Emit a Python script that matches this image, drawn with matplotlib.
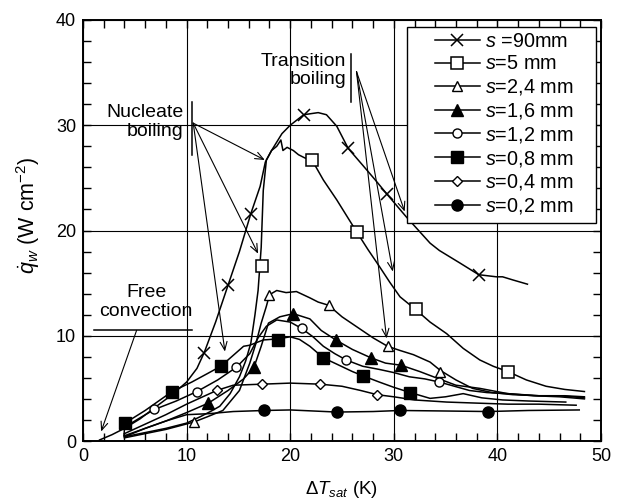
import matplotlib
matplotlib.use('Agg')
import matplotlib.pyplot as plt
from matplotlib.lines import Line2D
from matplotlib.patches import Rectangle
from matplotlib.ticker import MultipleLocator

plt.rcParams['font.family'] = ['Liberation Sans', 'DejaVu Sans']
plt.rcParams['mathtext.fontset'] = 'custom'
plt.rcParams['mathtext.rm'] = 'Liberation Sans'
plt.rcParams['mathtext.it'] = 'Liberation Sans:italic'
plt.rcParams['mathtext.bf'] = 'Liberation Sans:bold'

# ---------------- data ----------------
s90_x = [1.6, 2.8, 4.0, 5.5, 7.1, 8.6, 10.0, 11.0, 11.7, 12.8, 14.0, 15.1, 16.2, 17.1, 17.6, 18.2, 19.2,
         20.0, 21.3, 22.7, 23.5, 24.5, 25.6, 27.0, 28.3, 29.3, 31.2, 33.5, 34.4, 36.4, 38.2, 39.9, 40.5,
         41.5, 42.9]
s90_y = [0.1, 0.6, 1.2, 2.1, 3.3, 4.4, 5.6, 6.9, 8.4, 11.3, 14.8, 18.0, 21.6, 24.2, 26.5, 27.6, 29.2,
         30.0, 31.0, 31.2, 31.0, 29.9, 27.8, 26.2, 24.7, 23.5, 21.3, 18.8, 18.1, 16.9, 15.8, 15.6, 15.6,
         15.3, 14.9]
s90_mx = [11.7, 14.0, 16.2, 21.3, 25.6, 29.3, 38.2]
s90_my = [8.4, 14.8, 21.6, 31.0, 27.8, 23.5, 15.8]

s5_x = [4.0, 6.0, 8.0, 10.0, 11.3, 12.3, 13.2, 14.2, 15.1, 15.7, 16.2, 16.6, 16.9, 17.2, 17.4, 17.7, 18.2,
        18.7, 19.1, 19.3, 19.7, 20.3, 20.8, 21.4, 22.1, 23.2, 24.5, 25.7, 26.4, 27.5, 28.6, 29.6, 30.6,
        32.1, 33.5, 35.1, 36.7, 38.3, 39.6, 41.0, 42.8, 44.7, 46.5, 48.4]
s5_y = [0.4, 0.8, 1.2, 1.7, 2.3, 2.8, 3.3, 4.5, 6.1, 7.6, 9.3, 12.0, 14.3, 18.4, 23.8, 26.7, 27.6,
        28.0, 28.6, 27.6, 27.9, 27.6, 27.2, 26.9, 26.7, 24.8, 22.9, 21.0, 19.9, 18.2, 16.6, 15.1, 13.7,
        12.5, 11.3, 10.2, 8.8, 7.7, 7.1, 6.6, 5.8, 5.2, 4.9, 4.7]
s5_mx = [17.3, 22.1, 26.4, 32.1, 41.0]
s5_my = [16.6, 26.7, 19.9, 12.5, 6.6]

s24_x = [4.0, 6.0, 8.0, 10.7, 12.0, 13.5, 15.1, 16.1, 16.7, 17.2, 17.7, 18.0, 18.7, 19.6, 20.6, 21.9,
         22.7, 23.7, 25.0, 26.5, 28.0, 29.4, 30.6, 31.9, 33.5, 34.5, 36.0, 37.6, 39.5, 41.5, 44.0, 46.0, 48.4]
s24_y = [0.3, 0.7, 1.1, 1.8, 2.3, 2.9, 4.8, 7.4, 9.3, 11.2, 12.8, 13.9, 14.3, 14.1, 14.2, 13.6,
         13.2, 12.9, 11.8, 10.8, 9.8, 9.0, 8.6, 8.2, 7.5, 6.7, 5.8, 5.0, 4.6, 4.4, 4.3, 4.3, 4.1]
s24_mx = [10.7, 18.0, 23.7, 29.4, 34.5]
s24_my = [1.8, 13.9, 12.9, 9.0, 6.6]

s16_x = [4.0, 6.0, 8.0, 10.0, 12.1, 14.0, 15.5, 16.5, 17.2, 17.9, 19.0, 20.3, 21.9, 23.0, 24.4, 26.0,
         27.8, 29.2, 30.7, 32.5, 34.1, 36.0, 38.3, 41.0, 44.0, 46.5, 48.4]
s16_y = [0.5, 1.2, 1.9, 2.7, 3.6, 4.8, 5.9, 7.0, 9.0, 11.2, 11.8, 12.1, 11.6, 10.5, 9.6, 8.7,
         7.9, 7.4, 7.2, 6.6, 6.0, 5.3, 5.0, 4.5, 4.3, 4.3, 4.2]
s16_mx = [12.1, 16.5, 20.3, 24.4, 27.8, 30.7]
s16_my = [3.6, 7.0, 12.1, 9.6, 7.9, 7.2]

s12_x = [4.0, 5.5, 6.9, 9.0, 11.0, 13.0, 14.8, 16.1, 16.9, 17.7, 18.7, 20.0, 21.1, 22.2, 23.2, 24.3,
         25.4, 27.0, 28.6, 30.0, 31.5, 33.0, 34.4, 35.5, 37.3, 39.0, 41.0, 43.5, 46.0, 48.4]
s12_y = [1.3, 2.2, 3.0, 3.8, 4.7, 5.8, 7.0, 8.3, 9.8, 10.9, 11.5, 11.3, 10.7, 9.9, 9.0, 8.3,
         7.7, 7.1, 6.8, 6.5, 6.1, 5.9, 5.6, 5.3, 4.8, 4.6, 4.5, 4.3, 4.2, 4.0]
s12_mx = [6.9, 11.0, 14.8, 21.1, 25.4, 34.4]
s12_my = [3.0, 4.7, 7.0, 10.7, 7.7, 5.6]

s08_x = [3.95, 4.05, 6.0, 8.6, 10.5, 12.0, 13.3, 15.5, 16.1, 17.4, 18.8, 20.0, 20.9, 21.9, 23.2, 24.5,
         26.0, 27.0, 28.6, 30.0, 31.6, 33.5, 35.0, 36.7, 38.5, 40.5, 43.0, 46.6]
s08_y = [0.5, 1.7, 2.9, 4.7, 5.6, 6.4, 7.1, 9.0, 9.1, 9.6, 9.7, 9.9, 9.65, 9.0, 7.9, 7.3,
         6.6, 6.2, 5.6, 5.1, 4.6, 4.05, 4.2, 4.5, 4.1, 3.9, 3.8, 3.7]
s08_mx = [4.05, 8.6, 13.3, 18.8, 23.2, 27.0, 31.6]
s08_my = [1.7, 4.7, 7.1, 9.6, 7.9, 6.2, 4.6]

s04_x = [4.0, 6.0, 8.0, 10.0, 12.9, 14.5, 17.3, 20.0, 22.9, 25.0, 26.8, 28.4, 30.0, 32.0, 35.1, 38.0,
         41.0, 44.0, 47.6]
s04_y = [0.7, 1.6, 2.5, 3.5, 4.8, 5.3, 5.4, 5.5, 5.4, 5.2, 4.8, 4.4, 4.2, 3.9, 3.7, 3.6,
         3.5, 3.5, 3.4]
s04_mx = [12.9, 17.3, 22.9, 28.4]
s04_my = [4.8, 5.4, 5.4, 4.4]

s02_x = [4.0, 6.0, 8.0, 10.0, 12.2, 14.5, 17.5, 20.0, 24.5, 28.0, 30.6, 35.0, 39.1, 43.0, 47.9]
s02_y = [0.4, 1.2, 1.9, 2.5, 2.6, 2.8, 2.9, 2.95, 2.75, 2.8, 2.9, 2.85, 2.8, 2.9, 2.95]
s02_mx = [17.5, 24.5, 30.6, 39.1]
s02_my = [2.9, 2.75, 2.9, 2.8]

labels = [r'$s$ =90mm', r'$s$=5 mm', r'$s$=2,4 mm', r'$s$=1,6 mm',
          r'$s$=1,2 mm', r'$s$=0,8 mm', r'$s$=0,4 mm', r'$s$=0,2 mm']

x_ticks = [0, 10, 20, 30, 40, 50]
y_ticks = [0, 10, 20, 30, 40]

# annotation geometry (data units)
nuc_origin = (10.64, 30.2)
nuc_targets = [(17.55, 26.7), (16.9, 17.8), (13.7, 8.5)]
tra_origin = (26.4, 35.1)
tra_targets = [(31.05, 21.8), (29.9, 16.1), (29.3, 9.75)]
free_origin = (5.17, 10.5)
free_target = (1.75, 0.9)

# ---------------- plot ----------------
fig = plt.figure(figsize=(6.24, 5.03), dpi=100)
ax = fig.add_axes([83 / 624, 62 / 503, 518 / 624, 421 / 503])

series = [
    (s90_x, s90_y, s90_mx, s90_my, dict(marker='x', ms=9, mfc='black', mew=1.1)),
    (s5_x, s5_y, s5_mx, s5_my, dict(marker='s', ms=8, mfc='white', mew=1.1)),
    (s24_x, s24_y, s24_mx, s24_my, dict(marker='^', ms=7, mfc='white', mew=1.0)),
    (s16_x, s16_y, s16_mx, s16_my, dict(marker='^', ms=8, mfc='black', mew=1.0)),
    (s12_x, s12_y, s12_mx, s12_my, dict(marker='o', ms=6.5, mfc='white', mew=1.0)),
    (s08_x, s08_y, s08_mx, s08_my, dict(marker='s', ms=8.5, mfc='black', mew=1.0)),
    (s04_x, s04_y, s04_mx, s04_my, dict(marker='D', ms=5.5, mfc='white', mew=1.0)),
    (s02_x, s02_y, s02_mx, s02_my, dict(marker='o', ms=8, mfc='black', mew=1.0)),
]

handles = []
for (xs, ys, mx, my, st), lab in zip(series, labels):
    ax.plot(xs, ys, color='black', lw=1.1, zorder=3)
    ax.plot(mx, my, linestyle='none', color='black', mec='black', zorder=4, **st)
    handles.append(Line2D([], [], color='black', lw=1.1, mec='black', **st))

ax.set_xlim(0, 50)
ax.set_ylim(0, 40)
ax.set_xticks(x_ticks)
ax.set_yticks(y_ticks)
ax.xaxis.set_minor_locator(MultipleLocator(2))
ax.yaxis.set_minor_locator(MultipleLocator(2))
ax.tick_params(which='both', direction='in', top=True, right=True, length=6, width=1.0,
               labelsize=13, pad=5)
ax.grid(True, which='major', color='black', lw=0.8, zorder=1)
for sp in ax.spines.values():
    sp.set_linewidth(1.4)

ax.set_xlabel(r'$\mathit{Δ}T_{sat}$ (K)', fontsize=13.5, labelpad=10)
ax.set_ylabel(r'$\dot{q}_w$ (W cm$^{-2}$)', fontsize=15.5)
ax.yaxis.set_label_coords(-0.079, 0.537)

# legend: white box with black frame, then frameless legend inside it
box = Rectangle((0.6255, 0.5178), 0.3648, 0.4656, transform=ax.transAxes,
                facecolor='white', edgecolor='black', lw=1.0, zorder=9)
ax.add_patch(box)
leg = ax.legend(handles, labels, loc='upper left', bbox_to_anchor=(0.6795, 0.9722),
                fontsize=14.3, numpoints=1, frameon=False,
                borderaxespad=0, borderpad=0, handlelength=2.26, handletextpad=0.25,
                labelspacing=0.19)
leg.set_zorder(10)

# annotations
arrow_kw = dict(arrowstyle='->,head_length=0.6,head_width=0.25', lw=0.8, color='black',
                shrinkA=0, shrinkB=0)
ax.text(9.67, 30.3, 'Nucleate\nboiling', ha='right', va='center', multialignment='right',
        fontsize=14, linespacing=1.15, zorder=6)
ax.plot([10.48, 10.48], [27.2, 32.2], color='black', lw=1.1, zorder=6)
for t in nuc_targets:
    ax.annotate('', xy=t, xytext=nuc_origin, arrowprops=arrow_kw, zorder=6)

ax.text(25.43, 35.2, 'Transition\nboiling', ha='right', va='center', multialignment='right',
        fontsize=14, linespacing=1.15, zorder=6)
ax.plot([25.9, 25.9], [32.2, 36.8], color='black', lw=1.1, zorder=6)
for t in tra_targets:
    ax.annotate('', xy=t, xytext=tra_origin, arrowprops=arrow_kw, zorder=6)

ax.text(6.1, 13.2, 'Free\nconvection', ha='center', va='center', multialignment='center',
        fontsize=14, linespacing=1.15, zorder=6)
ax.plot([1.06, 10.5], [10.54, 10.54], color='black', lw=1.1, zorder=6)
ax.annotate('', xy=free_target, xytext=free_origin, arrowprops=arrow_kw, zorder=6)

fig.savefig('out.png', dpi=100)
